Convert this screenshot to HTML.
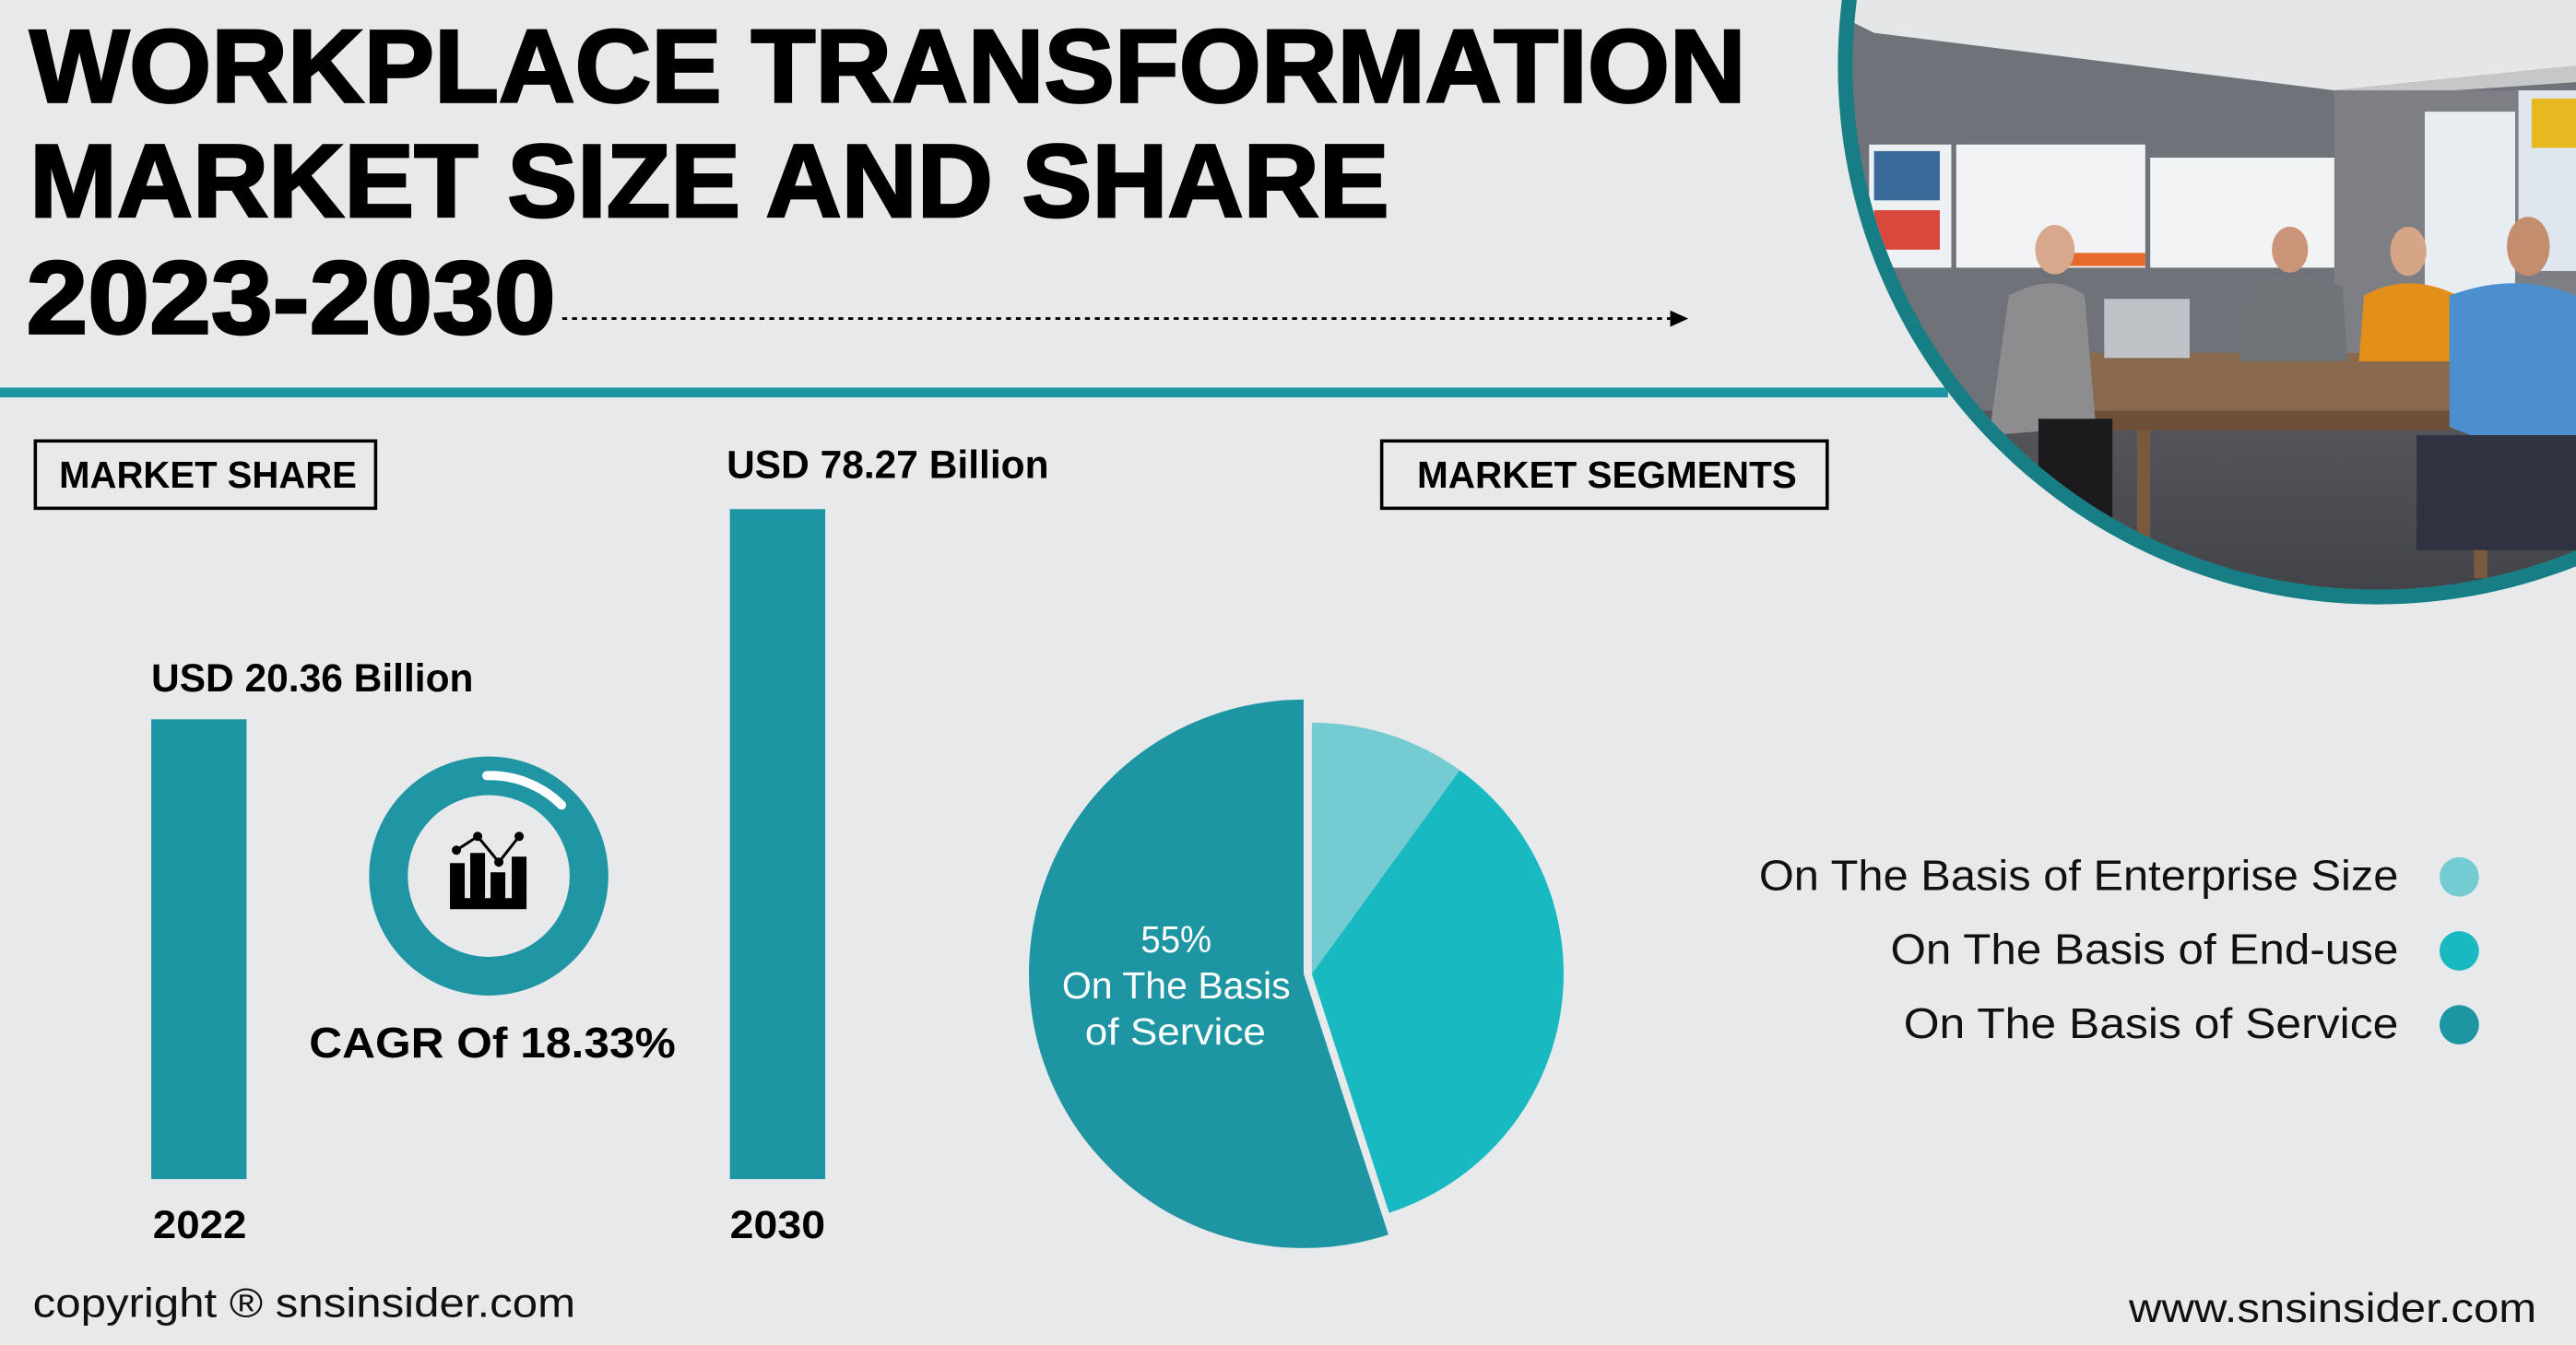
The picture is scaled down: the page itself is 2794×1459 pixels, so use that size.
<!DOCTYPE html>
<html><head><meta charset="utf-8"><style>
html,body{margin:0;padding:0;background:#e8e9eb;}
svg{display:block;}
text{font-family:"Liberation Sans",sans-serif;}
</style></head><body>
<svg width="2794" height="1459" viewBox="0 0 1567 819" preserveAspectRatio="none" xmlns="http://www.w3.org/2000/svg">
<defs>
<clipPath id="ph"><circle cx="1446" cy="40" r="319"/></clipPath>
<linearGradient id="floor" x1="0" y1="0" x2="0" y2="1"><stop offset="0" stop-color="#55575c"/><stop offset="1" stop-color="#3a3b3f"/></linearGradient>
</defs>
<rect width="1567" height="819" fill="#e8e9eb"/>

<!-- title -->
<g font-weight="bold" fill="#000" stroke="#000" stroke-width="1.5">
<text x="18" y="62" font-size="63" textLength="1044" lengthAdjust="spacingAndGlyphs">WORKPLACE TRANSFORMATION</text>
<text x="18" y="132" font-size="63" textLength="827" lengthAdjust="spacingAndGlyphs">MARKET SIZE AND SHARE</text>
<text x="16" y="203" font-size="63" textLength="322" lengthAdjust="spacingAndGlyphs">2023-2030</text>
</g>
<line x1="342" y1="194" x2="1016" y2="194" stroke="#000" stroke-width="1.6" stroke-dasharray="3 3"/>
<polygon points="1016,189 1027,194 1016,199" fill="#000"/>

<rect x="0" y="236" width="1185" height="6" fill="#1e95a2"/>

<!-- photo -->
<circle cx="1446" cy="40" r="328" fill="#167e84"/>
<g clip-path="url(#ph)">
<rect x="1100" y="0" width="480" height="400" fill="#707279"/>
<polygon points="1100,0 1567,0 1567,40 1420,55 1140,20" fill="#e4e6e8"/>
<polygon points="1420,55 1567,40 1567,50 1420,60" fill="#c5c7c9"/>
<rect x="1420" y="55" width="150" height="200" fill="#7d7f85"/>
<rect x="1137" y="88" width="50" height="75" fill="#eef1f4"/>
<rect x="1140" y="92" width="40" height="30" fill="#3a6a9a"/>
<rect x="1190" y="88" width="115" height="75" fill="#f1f3f5"/>
<rect x="1308" y="96" width="112" height="67" fill="#f1f3f5"/>
<rect x="1475" y="68" width="55" height="120" fill="#e8edf2"/>
<rect x="1532" y="55" width="40" height="110" fill="#e0e6ee"/>
<rect x="1140" y="128" width="40" height="24" fill="#d9473d"/>
<rect x="1250" y="154" width="55" height="8" fill="#e56a2c"/>
<rect x="1540" y="60" width="27" height="30" fill="#e8b820"/>
<rect x="1100" y="250" width="480" height="160" fill="url(#floor)"/>
<polygon points="1255,215 1500,215 1530,250 1270,250" fill="#8a6a4e"/>
<rect x="1270" y="250" width="260" height="12" fill="#6e4f37"/>
<rect x="1300" y="262" width="8" height="110" fill="#7a5a3e"/>
<rect x="1505" y="262" width="8" height="90" fill="#7a5a3e"/>
<rect x="1280" y="182" width="52" height="36" fill="#bfc3c8"/>
<ellipse cx="1250" cy="152" rx="12" ry="15" fill="#d8a88c"/>
<path d="M1222,180 Q1250,165 1268,180 L1275,260 L1210,265 Z" fill="#8d8d8f"/>
<rect x="1240" y="255" width="45" height="90" fill="#1b1b1d"/>
<ellipse cx="1393" cy="152" rx="11" ry="14" fill="#c99478"/>
<path d="M1365,175 Q1393,160 1425,175 L1428,220 L1362,220 Z" fill="#707378"/>
<ellipse cx="1465" cy="153" rx="11" ry="15" fill="#d6a486"/>
<path d="M1438,180 Q1465,165 1495,180 L1498,220 L1435,220 Z" fill="#e29019"/>
<ellipse cx="1538" cy="150" rx="13" ry="18" fill="#c48d6e"/>
<path d="M1490,180 Q1530,165 1567,180 L1567,290 L1490,260 Z" fill="#4b8fce"/>
<rect x="1470" y="265" width="97" height="70" fill="#2f3240"/>
</g>

<!-- market share -->
<rect x="21.5" y="268.5" width="207" height="41" fill="none" stroke="#000" stroke-width="2"/>
<text x="36" y="297" font-size="23" font-weight="bold" textLength="181" lengthAdjust="spacingAndGlyphs">MARKET SHARE</text>
<text x="92" y="421" font-size="24" font-weight="bold" textLength="196" lengthAdjust="spacingAndGlyphs">USD 20.36 Billion</text>
<text x="442" y="291" font-size="24" font-weight="bold" textLength="196" lengthAdjust="spacingAndGlyphs">USD 78.27 Billion</text>
<rect x="92" y="438" width="58" height="280" fill="#1e95a2"/>
<rect x="444" y="310" width="58" height="408" fill="#1e95a2"/>
<text x="93" y="754" font-size="24" font-weight="bold" textLength="57" lengthAdjust="spacingAndGlyphs">2022</text>
<text x="444" y="754" font-size="24" font-weight="bold" textLength="58" lengthAdjust="spacingAndGlyphs">2030</text>

<circle cx="297.3" cy="533.4" r="61" fill="none" stroke="#2095a3" stroke-width="23.5"/>
<g transform="scale(0.5609)">
<path d="M528,842 A110,110 0 0 1 609,874" fill="none" stroke="#fff" stroke-width="10" stroke-linecap="round"/>
<rect x="488" y="975" width="83" height="12" fill="#000"/>
<rect x="488" y="937" width="16" height="40" fill="#000"/>
<rect x="510" y="926" width="16" height="51" fill="#000"/>
<rect x="532" y="947" width="16" height="30" fill="#000"/>
<rect x="555" y="930" width="16" height="47" fill="#000"/>
<polyline points="495,923 518,908 541,936 563,908" fill="none" stroke="#000" stroke-width="3"/>
<circle cx="495" cy="923" r="5" fill="#000"/><circle cx="518" cy="908" r="5" fill="#000"/>
<circle cx="541" cy="936" r="5" fill="#000"/><circle cx="563" cy="908" r="5" fill="#000"/>
</g>
<text x="188" y="644" font-size="26" font-weight="bold" textLength="223" lengthAdjust="spacingAndGlyphs">CAGR Of 18.33%</text>

<!-- segments -->
<rect x="840.5" y="268.5" width="271" height="41" fill="none" stroke="#000" stroke-width="2"/>
<text x="862" y="297" font-size="23" font-weight="bold" textLength="231" lengthAdjust="spacingAndGlyphs">MARKET SEGMENTS</text>

<path d="M793,593 L793,426 A167,167 0 1 0 844.6,751.8 Z" fill="#1e95a2"/>
<path d="M798,593 L798,440 A153,153 0 0 1 888,469 Z" fill="#74cbd1"/>
<path d="M798,593 L888,469 A153,153 0 0 1 845,738.5 Z" fill="#19b9c2"/>
<g fill="#fff" font-size="23">
<text x="694" y="580" textLength="43" lengthAdjust="spacingAndGlyphs">55%</text>
<text x="646" y="608" textLength="139" lengthAdjust="spacingAndGlyphs">On The Basis</text>
<text x="660" y="636" textLength="110" lengthAdjust="spacingAndGlyphs">of Service</text>
</g>

<g font-size="26" fill="#111">
<text x="1070" y="542" textLength="389" lengthAdjust="spacingAndGlyphs">On The Basis of Enterprise Size</text>
<text x="1150" y="587" textLength="309" lengthAdjust="spacingAndGlyphs">On The Basis of End-use</text>
<text x="1158" y="632" textLength="301" lengthAdjust="spacingAndGlyphs">On The Basis of Service</text>
</g>
<circle cx="1496" cy="534" r="12" fill="#74cbd1"/>
<circle cx="1496" cy="579" r="12" fill="#19b9c2"/>
<circle cx="1496" cy="624" r="12" fill="#1e95a2"/>

<text x="20" y="802" font-size="25" fill="#111" textLength="330" lengthAdjust="spacingAndGlyphs">copyright ® snsinsider.com</text>
<text x="1295" y="805" font-size="25" fill="#111" textLength="248" lengthAdjust="spacingAndGlyphs">www.snsinsider.com</text>
</svg>
</body></html>
